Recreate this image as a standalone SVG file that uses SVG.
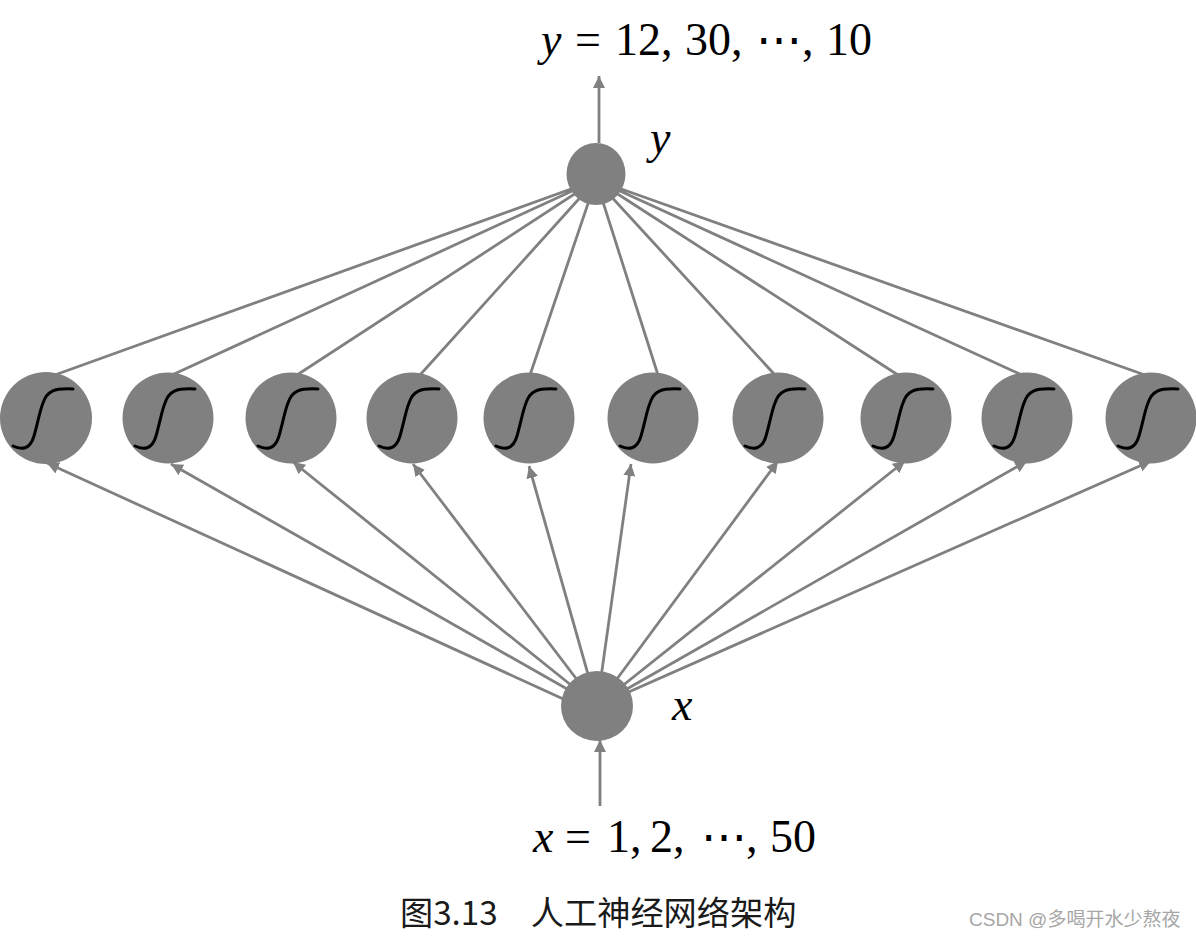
<svg xmlns="http://www.w3.org/2000/svg" xmlns:xlink="http://www.w3.org/1999/xlink" width="1196" height="939" viewBox="0 0 1196 939">
<style>
.c{stroke:#808080;stroke-width:2.8;fill:none}
.a{marker-end:url(#ah)}
.n{fill:#808080}
.s{stroke:#000;stroke-width:3;fill:none;stroke-linecap:round}
.m{font-family:"Liberation Serif",serif;font-size:46px;fill:#000}
.i{font-style:italic}
.cap{font-family:"Noto Sans CJK SC",sans-serif;font-size:33.200px;fill:#1a1a1a}
.wm{font-family:"Liberation Sans","Noto Sans CJK SC",sans-serif;font-size:19px;fill:#a6a6a6}
</style>
<defs>
<marker id="ah" markerUnits="userSpaceOnUse" markerWidth="14" markerHeight="14" refX="12" refY="6" orient="auto"><path d="M0 0L12 6L0 12Z" fill="#808080"/></marker>
<path id="sig" d="M-33 28C-25 32-16 32-12 18C-8 4-6-8-3-15C1-27 8-30 27-29"/>
</defs>
<rect width="1196" height="939" fill="#fff"/>
<g id="connectors">
<path class="c a" d="M599 143V76"/>
<path class="c a" d="M600 806V740"/>
<path class="c" d="M596 180L52 376M596 180L172 375M596 180L297 375M596 180L420 375M596 180L530 375M596 180L658 375M596 180L775 375M596 180L898 375M596 180L1022 375M596 180L1145 375"/>
<path class="c a" d="M572 703L47 463"/>
<path class="c a" d="M597 706L171 464"/>
<path class="c a" d="M597 706L293 462"/>
<path class="c a" d="M597 706L413 464"/>
<path class="c a" d="M597 706L529 466"/>
<path class="c a" d="M597 706L631 464"/>
<path class="c a" d="M597 706L778 461"/>
<path class="c a" d="M597 706L905 461"/>
<path class="c a" d="M597 706L1027 461"/>
<path class="c a" d="M597 706L1151 461"/>
</g>
<g id="node-y"><ellipse class="n" cx="596" cy="174" rx="29.500" ry="31"/></g>
<g id="node-x"><ellipse class="n" cx="597" cy="706" rx="36" ry="35"/></g>
<g id="h1"><circle class="n" cx="46" cy="418" r="46"/><use class="s" xlink:href="#sig" x="46" y="418"/></g>
<g id="h2"><circle class="n" cx="168" cy="418" r="45.500"/><use class="s" xlink:href="#sig" x="168" y="418"/></g>
<g id="h3"><circle class="n" cx="291" cy="418" r="45.500"/><use class="s" xlink:href="#sig" x="291" y="418"/></g>
<g id="h4"><circle class="n" cx="412" cy="418" r="45.500"/><use class="s" xlink:href="#sig" x="412" y="418"/></g>
<g id="h5"><circle class="n" cx="529" cy="418" r="45.500"/><use class="s" xlink:href="#sig" x="529" y="418"/></g>
<g id="h6"><circle class="n" cx="653" cy="418" r="45.500"/><use class="s" xlink:href="#sig" x="653" y="418"/></g>
<g id="h7"><circle class="n" cx="778" cy="418" r="45.500"/><use class="s" xlink:href="#sig" x="778" y="418"/></g>
<g id="h8"><circle class="n" cx="906" cy="418" r="45.500"/><use class="s" xlink:href="#sig" x="906" y="418"/></g>
<g id="h9"><circle class="n" cx="1027" cy="418" r="45.500"/><use class="s" xlink:href="#sig" x="1027" y="418"/></g>
<g id="h10"><circle class="n" cx="1151" cy="418" r="45.500"/><use class="s" xlink:href="#sig" x="1151" y="418"/></g>
<text class="m" y="55"><tspan class="i" x="541">y</tspan><tspan x="575">=</tspan><tspan x="615">12,</tspan><tspan x="685">30,</tspan><tspan x="756">⋯</tspan><tspan x="802">,</tspan><tspan x="826">10</tspan></text>
<text class="m i" x="650" y="153">y</text>
<text class="m i" x="672" y="720">x</text>
<text class="m" y="852"><tspan class="i" x="533">x</tspan><tspan x="565">=</tspan><tspan x="607">1,</tspan><tspan x="650">2,</tspan><tspan x="701">⋯</tspan><tspan x="746">,</tspan><tspan x="770">50</tspan></text>
<text class="cap" x="400" y="925">图3.13　人工神经网络架构</text>
<text class="wm" x="969" y="926">CSDN @多喝开水少熬夜</text>
</svg>
